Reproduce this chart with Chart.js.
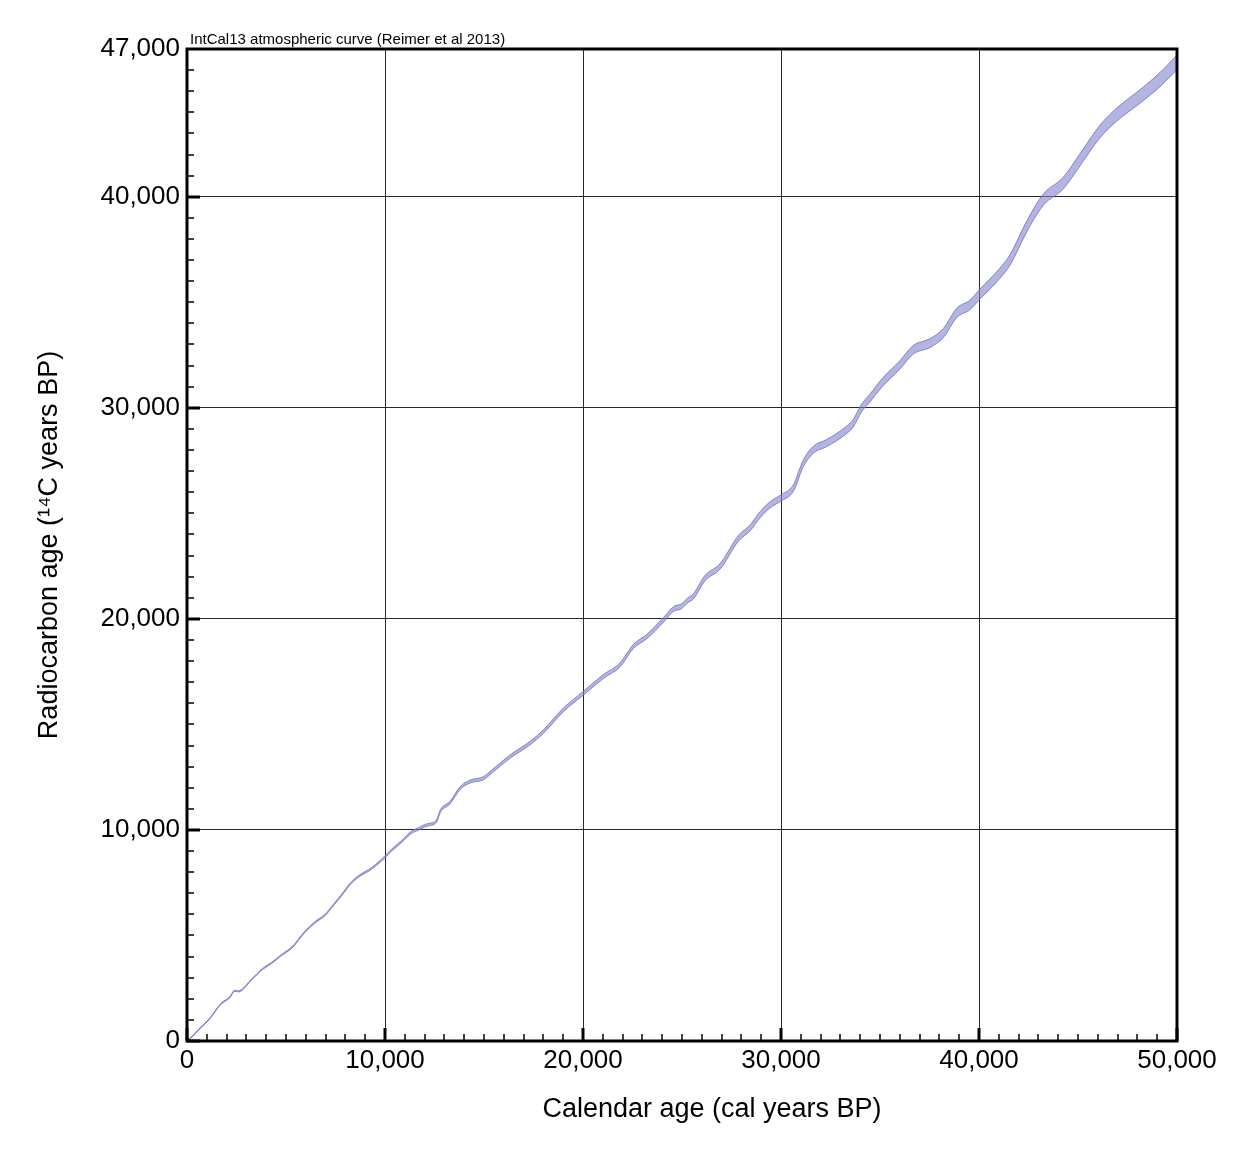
<!DOCTYPE html>
<html><head><meta charset="utf-8">
<script src="https://cdn.jsdelivr.net/npm/chart.js@4.4.1/dist/chart.umd.min.js"></script>
<style>html,body{margin:0;padding:0;background:#fff}</style>
</head><body>
<canvas id="c" width="1253" height="1171"></canvas>
<script>
// Calendar age (cal years BP)
const calAge = [0,300,570,1160,1700,2170,2400,2590,3270,3800,4280,4780,5290,5960,6500,6970,7400,7810,8250,8650,9330,9970,10340,10840,11350,11700,12000,12200,12600,12800,13280,13790,14290,14970,15390,16310,17320,18000,19010,19980,21030,21870,22540,23220,24060,24650,24900,25320,25570,26160,26920,27850,28430,28940,29440,29980,30620,31130,31630,32310,33320,33650,34070,34490,35090,36010,36680,37530,38200,38870,39550,40020,41060,41570,42410,43250,44260,45100,46110,46950,48130,49140,50000];
// Radiocarbon age (14C years BP)
const c14Age = [0,250,520,1075,1750,2080,2380,2350,2920,3400,3700,4080,4420,5180,5650,5970,6450,6920,7450,7790,8180,8700,9050,9450,9900,10050,10200,10250,10420,10900,11290,11980,12290,12450,12760,13470,14110,14660,15690,16450,17270,17820,18690,19160,19950,20510,20560,20900,21060,21930,22480,23820,24300,24930,25400,25720,26190,27380,28010,28330,28960,29270,29990,30460,31170,32040,32750,33070,33540,34490,34880,35360,36380,37010,38590,39860,40650,41750,43090,43890,44750,45550,46370];
// 1-sigma uncertainty (14C years)
const c14Err = [18,18,20,22,24,26,26,26,28,28,30,30,32,32,34,35,35,38,38,40,42,45,48,50,54,56,58,58,60,62,64,66,70,72,75,78,80,84,86,90,92,95,98,102,108,112,115,118,120,126,130,136,140,144,146,150,154,158,164,168,175,180,182,186,192,198,202,208,214,220,228,234,240,246,256,266,276,286,298,308,320,334,346];
const xTickLabels = [0,10000,20000,30000,40000,50000];
const yTickLabels = [0,10000,20000,30000,40000,47000];
const chartTitle = 'IntCal13 atmospheric curve (Reimer et al 2013)';
const xTitle = 'Calendar age (cal years BP)';
const yTitle = 'Radiocarbon age (\u00B9\u2074C years BP)';

const FONT = '"Liberation Sans", Arial, Helvetica, sans-serif';
const upper = calAge.map((x,i)=>({x:x, y:c14Age[i]+c14Err[i]}));
const lower = calAge.map((x,i)=>({x:x, y:c14Age[i]-c14Err[i]}));
const fmt = v => v.toLocaleString('en-US');

const decor = {
  id:'decor',
  afterDraw(chart){
    const ctx = chart.ctx, a = chart.chartArea;
    const xs = chart.scales.x, ys = chart.scales.y;
    ctx.save();
    ctx.strokeStyle = '#000';
    ctx.lineCap = 'butt';
    for(let v=0; v<=50000; v+=1000){
      const p = Math.round(xs.getPixelForValue(v));
      const major = v%10000===0;
      ctx.lineWidth = major?3:1.5;
      ctx.beginPath(); ctx.moveTo(p, a.bottom); ctx.lineTo(p, a.bottom-(major?13:7)); ctx.stroke();
    }
    for(let v=0; v<=47000; v+=1000){
      const p = Math.round(ys.getPixelForValue(v));
      const major = v%10000===0;
      ctx.lineWidth = major?3:1.5;
      ctx.beginPath(); ctx.moveTo(a.left, p); ctx.lineTo(a.left+(major?13:7), p); ctx.stroke();
    }
    ctx.lineWidth = 3;
    ctx.strokeRect(a.left, a.top, a.right-a.left, a.bottom-a.top);
    ctx.fillStyle = '#000';
    ctx.font = '15px '+FONT;
    ctx.textAlign = 'left'; ctx.textBaseline = 'alphabetic';
    ctx.fillText(chartTitle, a.left+3, a.top-5);
    ctx.font = '27px '+FONT;
    ctx.textAlign = 'center'; ctx.textBaseline = 'middle';
    ctx.fillText(xTitle, 712, 1110);
    ctx.translate(50, (a.top+a.bottom)/2);
    ctx.rotate(-Math.PI/2);
    ctx.fillText(yTitle, 0, 0);
    ctx.restore();
  }
};

new Chart(document.getElementById('c'), {
  type:'line',
  data:{datasets:[
    {data:upper, borderColor:'rgba(110,110,190,0.8)', borderWidth:1, pointRadius:0, fill:false, cubicInterpolationMode:'monotone'},
    {data:lower, borderColor:'rgba(110,110,190,0.8)', borderWidth:1, pointRadius:0, fill:'-1', backgroundColor:'rgba(130,130,205,0.6)', cubicInterpolationMode:'monotone'}
  ]},
  options:{
    responsive:false, animation:false,
    layout:{padding:{top:49,right:76,left:0,bottom:0}},
    plugins:{legend:{display:false}, tooltip:{enabled:false}, title:{display:false}},
    scales:{
      x:{type:'linear', min:0, max:50000,
        afterBuildTicks(s){ s.ticks = xTickLabels.map(v=>({value:v})); },
        afterFit(s){ s.height = 130; },
        border:{display:false},
        grid:{drawTicks:false, color:c=> (c.tick && c.tick.value>0 && c.tick.value<50000)?'#2a2a2a':'rgba(0,0,0,0)', lineWidth:1},
        ticks:{padding:4, color:'#000', font:{family:FONT, size:26}, maxRotation:0, callback:v=>fmt(v)}
      },
      y:{type:'linear', min:0, max:47000,
        afterBuildTicks(s){ s.ticks = yTickLabels.map(v=>({value:v})); },
        afterFit(s){ s.width = 187; },
        border:{display:false},
        grid:{drawTicks:false, color:c=> (c.tick && c.tick.value>0 && c.tick.value<47000)?'#2a2a2a':'rgba(0,0,0,0)', lineWidth:1},
        ticks:{padding:7, color:'#000', font:{family:FONT, size:26}, callback:v=>fmt(v)}
      }
    }
  },
  plugins:[decor]
});
</script>
</body></html>
